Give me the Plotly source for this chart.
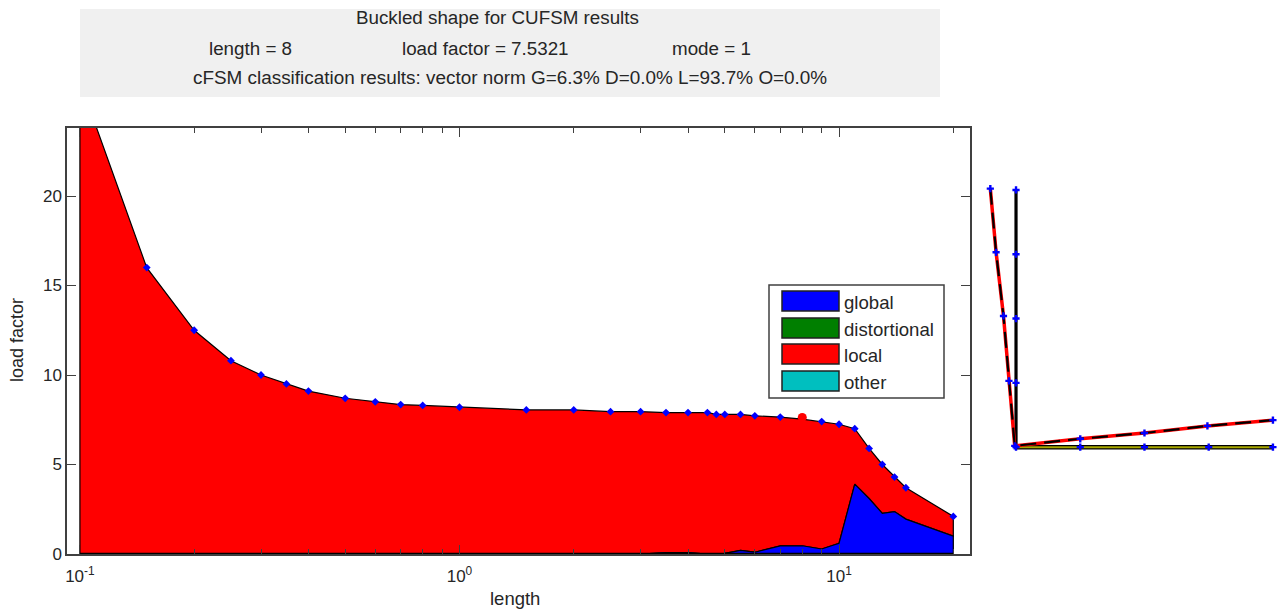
import plotly.graph_objects as go

W, H = 1280, 610

# ---- chart data
lengths = [0.1, 0.15, 0.2, 0.25, 0.3, 0.35, 0.4, 0.5, 0.6, 0.7, 0.8, 1, 1.5, 2, 2.5, 3, 3.5, 4,
           4.5, 4.75, 5, 5.5, 6, 7, 8, 9, 10, 11, 12, 13, 14, 15, 20]
load_factor = [26.4, 16.0, 12.5, 10.8, 10.0, 9.5, 9.1, 8.7, 8.5, 8.35, 8.3, 8.2, 8.05, 8.05, 7.95, 7.95, 7.9, 7.9,
               7.9, 7.8, 7.8, 7.8, 7.72, 7.65, 7.53, 7.4, 7.25, 7.0, 5.9, 5.0, 4.3, 3.7, 2.1]
global_part = [0, 0, 0, 0, 0, 0, 0, 0, 0, 0, 0, 0, 0, 0, 0, 0, 0.08, 0.08,
               0, 0, 0.03, 0.2, 0.1, 0.45, 0.46, 0.28, 0.6, 3.9, 3.1, 2.27, 2.37, 1.95, 1.0]
marker_lengths = [l for l in lengths if l != 8]
marker_factors = [f for l, f in zip(lengths, load_factor) if l != 8]
selected_length = [8]
selected_factor = [7.63]

# cross-section (undeformed and buckled nodes)
section_x = [0, 0, 0, 0, 0, 1, 2, 3, 4]
section_y = [4, 3, 2, 1, 0, 0, 0, 0, 0]
buckled_x = [-0.40, -0.31, -0.195, -0.11, -0.02, 1.0, 2.0, 2.98, 4.0]
buckled_y = [4.02, 3.03, 2.04, 1.03, 0.02, 0.13, 0.22, 0.33, 0.42]

legend_names = ["global", "distortional", "local", "other"]
legend_colors = ["#0000ff", "#007f00", "#ff0000", "#00bfbf"]
legend_tops = [291, 318, 344, 371]

x_decades = [0.1, 1, 10]
x_decade_labels = ["10<sup>-1</sup>", "10<sup>0</sup>", "10<sup>1</sup>"]
x_minor = [m * d for d in [0.1, 1, 10] for m in range(2, 10) if m * d <= 22]
y_ticks = [0, 5, 10, 15, 20]

title_line = "Buckled shape for CUFSM results"
info_texts = ["length = 8", "load factor = 7.5321", "mode = 1"]
class_line = "cFSM classification results: vector norm G=6.3% D=0.0% L=93.7% O=0.0%"

FONT = "Liberation Sans"
TEXT = "#262626"
AX = "#404040"
FS = 18


def px(v):
    return v / W


def py(v):
    return 1 - v / H


def band(lo, hi, color, name):
    xs = lengths + lengths[::-1] + lengths[:1]
    ys = list(hi) + list(lo)[::-1] + [hi[0]]
    return go.Scatter(x=xs, y=ys, fill="toself", fillcolor=color, mode="lines",
                      line=dict(color="black", width=1.2), name=name, showlegend=False,
                      hoverinfo="skip")


fig = go.Figure()
zero = [0] * len(lengths)
fig.add_trace(band(global_part, load_factor, legend_colors[2], "local"))
fig.add_trace(band(zero, global_part, legend_colors[0], "global"))
fig.add_trace(go.Scatter(x=lengths, y=zero, mode="lines", line=dict(color="black", width=2.5),
                         showlegend=False, hoverinfo="skip"))
fig.add_trace(go.Scatter(x=marker_lengths, y=marker_factors, mode="markers",
                         marker=dict(symbol="diamond", size=6, color="#0000ff"), showlegend=False))
fig.add_trace(go.Scatter(x=selected_length, y=selected_factor, mode="markers",
                         marker=dict(symbol="circle", size=9, color="#ff0000"), showlegend=False))

# cross-section panel
sx2 = dict(xaxis="x2", yaxis="y2")
fig.add_trace(go.Scatter(x=section_x[:5], y=section_y[:5], mode="lines", line=dict(color="black", width=3.2),
                         showlegend=False, **sx2))
fig.add_trace(go.Scatter(x=section_x[4:], y=section_y[4:], mode="lines", line=dict(color="black", width=4.5),
                         showlegend=False, **sx2))
fig.add_trace(go.Scatter(x=section_x[4:], y=section_y[4:], mode="lines", line=dict(color="#a8a800", width=2),
                         showlegend=False, **sx2))
fig.add_trace(go.Scatter(x=buckled_x, y=buckled_y, mode="lines", line=dict(color="#ff0000", width=3.5),
                         showlegend=False, **sx2))
fig.add_trace(go.Scatter(x=buckled_x, y=buckled_y, mode="lines",
                         line=dict(color="black", width=2.2, dash="16px 8px"),
                         showlegend=False, **sx2))
fig.add_trace(go.Scatter(x=section_x + buckled_x, y=section_y + buckled_y, mode="markers",
                         marker=dict(symbol="cross", size=6, color="#0000ff"),
                         showlegend=False, **sx2))

axis_common = dict(showgrid=False, zeroline=False, showline=True, linecolor=AX, linewidth=1.5,
                   mirror="ticks", ticks="inside", tickcolor=AX, tickwidth=1, ticklen=9,
                   automargin=False, tickfont=dict(family=FONT, size=17, color=TEXT))

fig.update_layout(
    width=W, height=H, margin=dict(l=0, r=0, t=0, b=0), autosize=False,
    paper_bgcolor="white", plot_bgcolor="white", showlegend=False,
    xaxis=dict(type="log", domain=[px(67), px(970)], range=[-1.034, 1.345], tickmode="array",
               tickvals=x_decades, ticktext=x_decade_labels, ticklabelstandoff=6,
               minor=dict(tickmode="array", tickvals=x_minor, ticks="inside", ticklen=5,
                          tickcolor=AX, showgrid=False),
               **axis_common),
    yaxis=dict(domain=[py(554), py(128)], range=[0, 23.8], tickmode="array", tickvals=y_ticks,
               **axis_common),
    xaxis2=dict(domain=[px(976), px(1280)], range=[-0.623, 4.11], visible=False, anchor="y2", automargin=False),
    yaxis2=dict(domain=[py(460), py(170)], range=[-0.2, 4.31], visible=False, anchor="x2", automargin=False),
)

shapes = [dict(type="rect", xref="paper", yref="paper", x0=px(80), x1=px(940), y0=py(97), y1=py(9),
               fillcolor="#f0f0f0", line=dict(width=0), layer="below"),
          dict(type="rect", xref="paper", yref="paper", x0=px(769), x1=px(944), y0=py(398), y1=py(285),
               fillcolor="white", line=dict(color=AX, width=1.5), layer="above")]
for color, top in zip(legend_colors, legend_tops):
    shapes.append(dict(type="rect", xref="paper", yref="paper", x0=px(782), x1=px(839),
                       y0=py(top + 20), y1=py(top), fillcolor=color,
                       line=dict(color="#202020", width=1.5), layer="above"))
fig.update_layout(shapes=shapes)


def note(text, x, y, anchor="center", angle=0, size=FS):
    fig.add_annotation(text=text, x=px(x), y=py(y), xref="paper", yref="paper", xanchor=anchor,
                       yanchor="middle", showarrow=False, textangle=angle,
                       font=dict(family=FONT, size=size, color=TEXT))


note(title_line, 497, 18, size=18.8)
for t, cx in zip(info_texts, [250, 485, 711]):
    note(t, cx, 48, size=18.8)
note(class_line, 510, 78, size=18.9)
note("length", 515, 598, size=18.5)
note("load factor", 17, 340, angle=-90)
for name, top in zip(legend_names, legend_tops):
    note(name, 842, top + 11, anchor="left", size=18.6)

fig.write_html("out.html", config=dict(displayModeBar=False), default_width="1280px", default_height="610px",
               post_script="document.body.style.margin='0';document.body.style.overflow='hidden';")
